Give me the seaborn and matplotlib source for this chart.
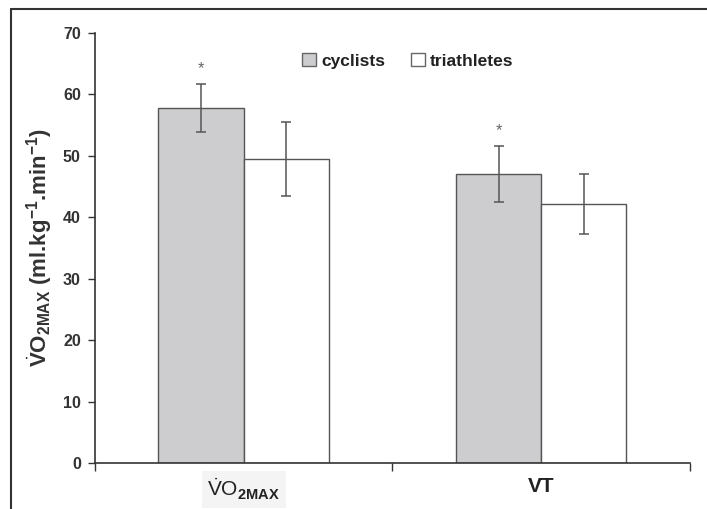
import pandas as pd
import numpy as np
import matplotlib
matplotlib.use("Agg")
import matplotlib.pyplot as plt
import seaborn as sns
from matplotlib.patches import Patch
from matplotlib.lines import Line2D

groups = ["VO2MAX", "VT"]
athletes = ["cyclists", "triathletes"]
cyclists_mean = [57.8, 47.0]
cyclists_sd = [3.9, 4.6]
triathletes_mean = [49.5, 42.2]
triathletes_sd = [6.0, 4.9]

df = pd.DataFrame({
    "group": groups * 2,
    "athlete": ["cyclists"] * 2 + ["triathletes"] * 2,
    "value": cyclists_mean + triathletes_mean,
    "sd": cyclists_sd + triathletes_sd,
})

sns.set_style("white")
plt.rcParams["font.family"] = ["Liberation Sans", "DejaVu Sans"]
plt.rcParams["mathtext.fontset"] = "custom"
plt.rcParams["mathtext.rm"] = "Liberation Sans"
plt.rcParams["mathtext.bf"] = "Liberation Sans:bold"

fig = plt.figure(figsize=(7.07, 5.09), dpi=100)
ax = fig.add_axes([0.134, 0.0904, 0.842, 0.845])

cols = {"cyclists": "#cdcdcf", "triathletes": "#ffffff"}
sns.barplot(data=df, x="group", y="value", hue="athlete", order=groups,
            hue_order=athletes, palette=cols, width=0.573, errorbar=None,
            edgecolor="#555555", linewidth=1.0, ax=ax, legend=False)

# error bars from patch centres
bars = [p for p in ax.patches if p.get_height() > 0]
bars = sorted(bars, key=lambda p: p.get_x())
order_vals = []
for gi in range(len(groups)):
    order_vals.append((cyclists_mean[gi], cyclists_sd[gi], True))
    order_vals.append((triathletes_mean[gi], triathletes_sd[gi], False))
for p, (m, s, cyc) in zip(bars, order_vals):
    xc = p.get_x() + p.get_width() / 2
    ax.errorbar(xc, m, yerr=s, fmt="none", ecolor="#555555", elinewidth=1.1,
                capsize=3.5, capthick=1.1)
    if cyc:
        ax.text(xc, m + s + 1.3, "*", ha="center", va="bottom", fontsize=12,
                color="#666666")

ax.set_ylim(0, 70)
ax.set_xlim(-0.5, 1.5)
ax.set_yticks(np.arange(0, 71, 10))
ax.tick_params(axis="y", direction="out", length=5, width=1, color="#333333",
               labelsize=11.5, labelcolor="#333333", left=True, pad=5)
for t in ax.get_yticklabels():
    t.set_fontweight("bold")

ax.set_xticks([-0.5, 0.5, 1.5])
ax.set_xticklabels([])
ax.tick_params(axis="x", which="major", direction="out", length=6, width=1,
               color="#333333", bottom=True)
ax.set_xticks([0, 1], minor=True)
ax.set_xticklabels([r"$\dot{\mathrm{V}}\mathrm{O}_{\mathbf{2MAX}}$", "VT"], minor=True)
ax.tick_params(axis="x", which="minor", length=0, pad=10, labelsize=15,
               labelcolor="#222222")
for t in ax.get_xticklabels(minor=True):
    t.set_fontweight("bold")
ax.get_xticklabels(minor=True)[0].set_bbox(dict(facecolor="#f4f4f4",
                                                edgecolor="none", pad=4))

ax.set_xlabel("")
ax.set_ylabel(r"$\dot{\mathbf{V}}\mathbf{O}_{\mathbf{2MAX}}$ (ml.kg$^{\mathbf{-1}}$.min$^{\mathbf{-1}}$)",
              fontsize=16, fontweight="bold", color="#333333", labelpad=6)

sns.despine(ax=ax)
for sp in ["left", "bottom"]:
    ax.spines[sp].set_color("#333333")
    ax.spines[sp].set_linewidth(1.2)

handles = [Patch(facecolor=cols[a], edgecolor="#666666", label=a) for a in athletes]
leg = ax.legend(handles=handles, loc="center", bbox_to_anchor=(0.526, 0.935),
                ncol=2, frameon=False, handlelength=0.8, handleheight=0.8,
                handletextpad=0.3, columnspacing=1.5,
                prop={"weight": "bold", "size": 12.5})
for t in leg.get_texts():
    t.set_color("#222222")

# outer frame lines (top and left)
fig.add_artist(Line2D([0.015, 1.0], [0.982, 0.982], color="#333333", lw=1.5,
                      transform=fig.transFigure))
fig.add_artist(Line2D([0.015, 0.015], [0.0, 0.982], color="#333333", lw=1.5,
                      transform=fig.transFigure))

fig.savefig("out.png", dpi=100)
